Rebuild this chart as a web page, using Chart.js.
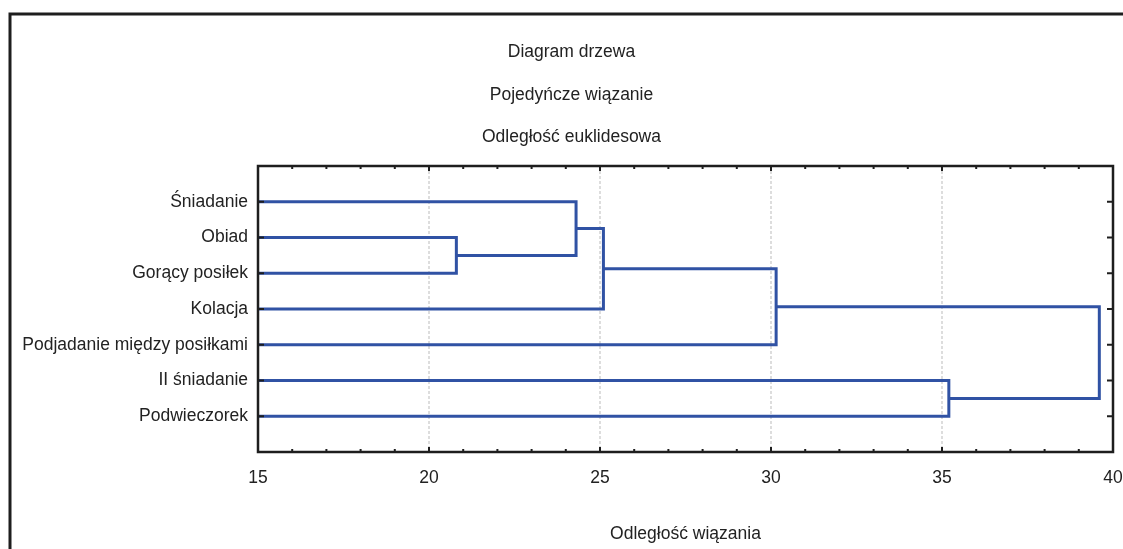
<!DOCTYPE html>
<html>
<head>
<meta charset="utf-8">
<script src="https://cdn.jsdelivr.net/npm/chart.js@4.4.1/dist/chart.umd.min.js"></script>
<style>
  html, body { margin: 0; padding: 0; background: #fff; }
  #wrap { width: 1123px; height: 549px; position: relative; }
</style>
</head>
<body>
<div id="wrap"><canvas id="tree"></canvas></div>
<script>
// --- Data ---
const titleLines = ["Diagram drzewa", "Pojedyńcze wiązanie", "Odległość euklidesowa"];
const xAxisTitle = "Odległość wiązania";
const leaves = [
  "Śniadanie",
  "Obiad",
  "Gorący posiłek",
  "Kolacja",
  "Podjadanie między posiłkami",
  "II śniadanie",
  "Podwieczorek"
];
// merges: node ids 0..6 are leaves, each merge creates node 7, 8, ...
const mergeLeft = [1, 0, 8, 9, 5, 10];
const mergeRight = [2, 7, 3, 4, 6, 11];
const mergeHeight = [20.8, 24.3, 25.1, 30.15, 35.2, 39.6];
const xTicks = [15, 20, 25, 30, 35, 40];
const xMin = 15;
const xMax = 40;

// --- Font check (narrow font if available) ---
function pickFont() {
  const c = document.createElement("canvas").getContext("2d");
  const s = "Podjadanie między posiłkami";
  c.font = "21px monospace";
  const w0 = c.measureText(s).width;
  c.font = '21px "Liberation Sans Narrow", monospace';
  const w1 = c.measureText(s).width;
  if (Math.abs(w1 - w0) > 0.5) {
    return { family: '"Liberation Sans Narrow", "Arial Narrow", sans-serif', size: 21 };
  }
  return { family: '"Liberation Sans", Arial, sans-serif', size: 17.5 };
}
const font = pickFont();
const textColor = "#222";
const lineColor = "rgb(48, 82, 164)";

// --- Build dendrogram links from the merge list ---
const nodeX = leaves.map(() => xMin);
const nodeY = leaves.map((_, i) => i + 1);
const datasets = [];
mergeHeight.forEach((h, i) => {
  const a = mergeLeft[i];
  const b = mergeRight[i];
  datasets.push({
    data: [
      { x: nodeX[a], y: nodeY[a] },
      { x: h, y: nodeY[a] },
      { x: h, y: nodeY[b] },
      { x: nodeX[b], y: nodeY[b] }
    ],
    showLine: true,
    borderColor: lineColor,
    borderWidth: 3,
    borderJoinStyle: "miter",
    borderCapStyle: "butt",
    pointRadius: 0,
    pointHoverRadius: 0,
    tension: 0
  });
  nodeX.push(h);
  nodeY.push((nodeY[a] + nodeY[b]) / 2);
});

// --- Frame, dashed grid and inward ticks ---
const framePlugin = {
  id: "frame",
  beforeDatasetsDraw(chart) {
    const { ctx, scales: { x, y } } = chart;
    ctx.save();
    ctx.strokeStyle = "#d2d2d2";
    ctx.lineWidth = 1.5;
    ctx.setLineDash([3, 2]);
    xTicks.forEach(v => {
      if (v <= xMin || v >= xMax) return;
      const px = x.getPixelForValue(v);
      ctx.beginPath();
      ctx.moveTo(px, y.top);
      ctx.lineTo(px, y.bottom);
      ctx.stroke();
    });
    ctx.restore();
  },
  afterDatasetsDraw(chart) {
    const { ctx, chartArea: a, scales: { x, y } } = chart;
    ctx.save();
    ctx.strokeStyle = "#1e1e1e";
    // outer frame
    ctx.lineWidth = 3;
    ctx.strokeRect(10, 14, 1200, 1000);
    // plot border
    ctx.lineWidth = 2.5;
    ctx.strokeRect(a.left, a.top, a.right - a.left, a.bottom - a.top);
    // x ticks, minor every 1, major every 5
    ctx.lineWidth = 2;
    for (let v = xMin; v <= xMax; v++) {
      const px = x.getPixelForValue(v);
      const len = xTicks.includes(v) ? 5 : 3;
      ctx.beginPath();
      ctx.moveTo(px, a.bottom);
      ctx.lineTo(px, a.bottom - len);
      ctx.moveTo(px, a.top);
      ctx.lineTo(px, a.top + len);
      ctx.stroke();
    }
    // y ticks at each leaf
    leaves.forEach((_, i) => {
      const py = y.getPixelForValue(i + 1);
      ctx.beginPath();
      ctx.moveTo(a.left, py);
      ctx.lineTo(a.left + 6, py);
      ctx.moveTo(a.right, py);
      ctx.lineTo(a.right - 6, py);
      ctx.stroke();
    });
    ctx.restore();
  }
};

new Chart(document.getElementById("tree"), {
  type: "scatter",
  data: { datasets },
  plugins: [framePlugin],
  options: {
    responsive: true,
    maintainAspectRatio: false,
    animation: false,
    events: [],
    layout: { padding: { top: 13, left: 20, right: 0, bottom: 0 } },
    plugins: {
      legend: { display: false },
      tooltip: { enabled: false },
      title: {
        display: true,
        text: titleLines,
        color: textColor,
        font: { family: font.family, size: font.size, weight: "normal", lineHeight: "42.5px" },
        padding: { top: 18, bottom: 7.5 }
      }
    },
    scales: {
      x: {
        type: "linear",
        min: xMin,
        max: xMax,
        afterBuildTicks: scale => {
          scale.ticks = xTicks.map(v => ({ value: v }));
        },
        afterFit: scale => {
          scale.height = 97;
          scale.paddingLeft = 0;
          scale.paddingRight = 10;
        },
        grid: { display: false, drawTicks: false },
        border: { display: false },
        ticks: {
          color: textColor,
          font: { family: font.family, size: font.size },
          padding: 16,
          maxRotation: 0
        },
        title: {
          display: true,
          text: xAxisTitle,
          color: textColor,
          font: { family: font.family, size: font.size },
          padding: { top: 0, bottom: 4.4 }
        }
      },
      y: {
        type: "linear",
        min: 0,
        max: leaves.length + 1,
        reverse: true,
        afterBuildTicks: scale => {
          scale.ticks = leaves.map((_, i) => ({ value: i + 1 }));
        },
        afterFit: scale => {
          scale.width = 238;
        },
        grid: { display: false, drawTicks: false },
        border: { display: false },
        ticks: {
          color: textColor,
          font: { family: font.family, size: font.size },
          padding: 10,
          autoSkip: false,
          callback: v => leaves[v - 1]
        }
      }
    }
  }
});
</script>
</body>
</html>
